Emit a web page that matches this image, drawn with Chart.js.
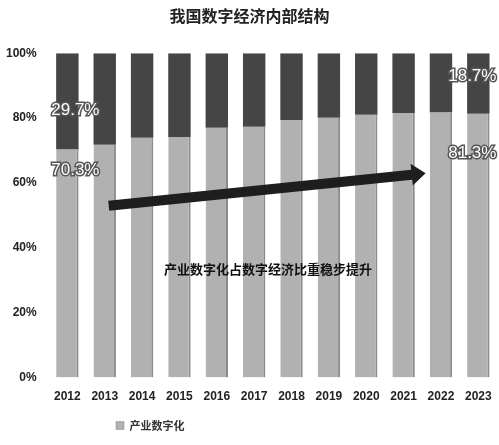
<!DOCTYPE html>
<html><head><meta charset="utf-8">
<script src="https://cdn.jsdelivr.net/npm/chart.js@4/dist/chart.umd.min.js"></script>
<style>html,body{margin:0;padding:0;background:#fff}#w{width:499px;height:445px}</style>
</head><body><div id="w"><canvas id="c"></canvas></div>
<script>
const years = ['2012','2013','2014','2015','2016','2017','2018','2019','2020','2021','2022','2023'];
const industry = [70.3,71.8,73.9,74.2,77.0,77.3,79.4,80.1,81.0,81.6,81.7,81.3];
const other = industry.map(v => +(100 - v).toFixed(1));
const yTicks = ['0%','20%','40%','60%','80%','100%'];

const overlay = {
  id:'overlay',
  afterDatasetsDraw(chart){
    const {ctx, scales:{x,y}} = chart;
    ctx.save();
    const x0 = x.getPixelForValue(1)+4, y0 = y.getPixelForValue(53);
    const x1 = x.getPixelForValue(9)+22, y1 = y.getPixelForValue(63);
    const ang = Math.atan2(y1-y0, x1-x0);
    ctx.fillStyle = '#1e1e1e';
    ctx.translate(x0,y0); ctx.rotate(ang);
    const L = Math.hypot(x1-x0,y1-y0);
    ctx.beginPath();
    ctx.moveTo(0,-5); ctx.lineTo(L-14,-5); ctx.lineTo(L-14,-11); ctx.lineTo(L,0);
    ctx.lineTo(L-14,11); ctx.lineTo(L-14,5); ctx.lineTo(0,5); ctx.closePath(); ctx.fill();
    ctx.setTransform(1,0,0,1,0,0);
    ctx.restore(); ctx.save();
    const lab = (t, px, py) => {
      ctx.font = '17px "Liberation Sans", Arial, sans-serif';
      ctx.textAlign='center'; ctx.textBaseline='middle';
      ctx.lineWidth = 3; ctx.strokeStyle='#555'; ctx.strokeText(t,px,py);
      ctx.fillStyle='#fff'; ctx.fillText(t,px,py);
    };
    lab('29.7%', x.getPixelForValue(0)+8, y.getPixelForValue(82.5));
    lab('70.3%', x.getPixelForValue(0)+8, y.getPixelForValue(64));
    lab('18.7%', x.getPixelForValue(11)-6, y.getPixelForValue(93));
    lab('81.3%', x.getPixelForValue(11)-6, y.getPixelForValue(69));
    ctx.font = 'bold 13px "Noto Sans CJK SC", sans-serif';
    ctx.textAlign='center'; ctx.textBaseline='middle'; ctx.fillStyle='#111';
    ctx.fillText('产业数字化占数字经济比重稳步提升', 268, y.getPixelForValue(33.5));
    ctx.restore();
  }
};

new Chart(document.getElementById('c'), {
  type:'bar',
  data:{labels:years, datasets:[
    {label:'产业数字化', data:industry, backgroundColor:'#b1b1b1', borderColor:'#8a8a8a', borderWidth:{left:0,right:2,top:0,bottom:0}, borderSkipped:false, categoryPercentage:0.6, barPercentage:1},
    {label:'数字产业化', data:other, backgroundColor:'#454545', categoryPercentage:0.6, barPercentage:1}
  ]},
  options:{
    responsive:true, maintainAspectRatio:false, animation:false,
    layout:{padding:{left:2,right:2,top:6,bottom:4}},
    plugins:{
      title:{display:true, text:'我国数字经济内部结构', color:'#222', font:{family:'"Noto Sans CJK SC"', size:16, weight:'bold'}, padding:{top:0,bottom:28}},
      legend:{position:'bottom', align:'start', labels:{filter:i=>i.datasetIndex===0, boxWidth:8, boxHeight:8, color:'#333', font:{family:'"Noto Sans CJK SC"', size:11, weight:'bold'}, padding:12}},
      tooltip:{enabled:false}
    },
    scales:{
      x:{stacked:true, grid:{display:false}, border:{display:false}, ticks:{color:'#222', padding:4, font:{family:'"Liberation Sans"', size:12, weight:'bold'}}},
      y:{stacked:true, min:0, max:100, grid:{display:false}, border:{display:false},
         ticks:{stepSize:20, color:'#222', padding:4, font:{family:'"Liberation Sans"', size:12, weight:'bold'}, callback:(v,i)=>yTicks[i]}}
    }
  },
  plugins:[overlay, {id:'legpos', afterLayout(c){const l=c.legend; const dx=104-l.left; l.left+=dx; l.right+=dx; l.legendHitBoxes.forEach(h=>h.left+=dx);}}]
});
</script></body></html>
